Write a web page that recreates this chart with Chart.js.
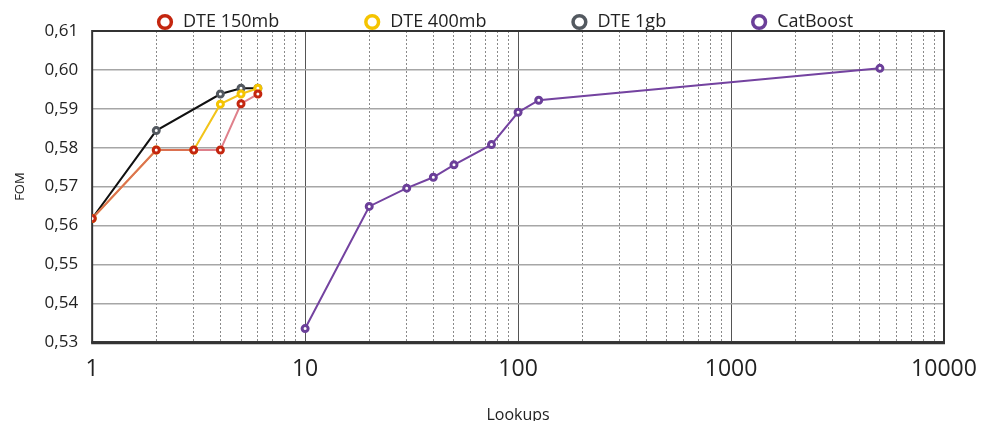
<!DOCTYPE html>
<html>
<head>
<meta charset="utf-8">
<script src="https://cdn.jsdelivr.net/npm/chart.js@4/dist/chart.umd.min.js"></script>
<style>
  html, body { margin: 0; padding: 0; background: #fff; }
  #wrap { width: 981px; height: 421px; }
</style>
</head>
<body>
<div id="wrap"><canvas id="fom-chart"></canvas></div>
<script>
const dteLookups = [1, 2, 3, 4, 5, 6];
const dte150 = [0.5618, 0.5794, 0.5794, 0.5794, 0.5913, 0.5938];
const dte400 = [0.5618, 0.5794, 0.5794, 0.5912, 0.5938, 0.5953];
const dte1gbLookups = [1, 2, 4, 5, 6];
const dte1gb = [0.5618, 0.5844, 0.5938, 0.5953, 0.5953];
const catLookups = [10, 20, 30, 40, 50, 75, 100, 125, 5000];
const catboost = [0.5335, 0.5649, 0.5696, 0.5724, 0.5756, 0.5808, 0.5891, 0.5922, 0.6004];
const xTicks = [1, 10, 100, 1000, 10000];
const yMin = 0.53, yMax = 0.61;

const font = "'Open Sans', sans-serif";

function pts(xs, ys) {
  return xs.map((x, i) => ({ x: x, y: ys[i] }));
}

// minor lines 2..9 of every decade
const minorTicks = [];
xTicks.slice(0, -1).forEach(d => {
  for (let k = 2; k <= 9; k++) minorTicks.push(d * k);
});

const markerColors = ["#c4260f", "#f5c400", "#535960", "#6b3f99"];

function series(label, data, lineColor, i) {
  return {
    label: label,
    data: data,
    borderColor: lineColor,
    borderWidth: 2,
    backgroundColor: "#fff",
    pointBorderColor: markerColors[i],
    pointBackgroundColor: "#fff",
    pointRadius: 3,
    pointBorderWidth: 3,
    tension: 0
  };
}

const legendPad = 84;

const frame = {
  id: "frame",
  beforeDatasetsDraw(chart) {
    const a = chart.chartArea, c = chart.ctx;
    c.save();
    c.strokeStyle = "#333";
    c.lineWidth = 2;
    c.strokeRect(a.left, a.top, a.right - a.left, a.bottom - a.top);
    c.lineWidth = 3;
    c.beginPath();
    c.moveTo(a.left - 1, a.bottom + 0.5);
    c.lineTo(a.right + 1, a.bottom + 0.5);
    c.stroke();
    c.restore();
  },
  afterLayout(chart) {
    // legend sits left of centre and tight to the top in the original
    const lg = chart.legend;
    const start = (lg.left + legendPad + lg.right - lg.lineWidths[0]) / 2;
    const shift = 156 - start;
    lg.left += shift; lg.right += shift;
    lg.top = -71;
  }
};

new Chart(document.getElementById("fom-chart"), {
  type: "line",
  data: {
    datasets: [
      series("DTE 150mb", pts(dteLookups, dte150), "rgba(212,86,100,0.75)", 0),
      series("DTE 400mb", pts(dteLookups, dte400), "#f2c41a", 1),
      series("DTE 1gb", pts(dte1gbLookups, dte1gb), "#111", 2),
      series("CatBoost", pts(catLookups, catboost), "#7443a0", 3)
    ]
  },
  options: {
    responsive: true,
    maintainAspectRatio: false,
    animation: false,
    layout: { padding: { right: 0, bottom: -4, left: 0, top: 0 } },
    plugins: {
      tooltip: { enabled: false },
      legend: {
        position: "top",
        maxHeight: 31,
        labels: {
          usePointStyle: true,
          pointStyle: "circle",
          boxHeight: 9,
          padding: legendPad,
          color: "#222",
          font: { family: font, size: 18 },
          generateLabels(chart) {
            return chart.data.datasets.map((ds, i) => ({
              text: ds.label,
              fillStyle: "#fff",
              strokeStyle: markerColors[i],
              lineWidth: 3.5,
              pointStyle: "circle",
              datasetIndex: i,
              fontColor: "#222"
            }));
          }
        }
      }
    },
    scales: {
      x: {
        type: "logarithmic",
        min: 1,
        max: 10000,
        afterBuildTicks(axis) { axis.ticks = xTicks.map(v => ({ value: v })); },
        afterFit(axis) { axis.paddingRight = 37; },
        ticks: {
          color: "#222",
          padding: 13,
          font: { family: font, size: 23 },
          callback: v => String(v)
        },
        grid: { color: "#555", lineWidth: 1, drawTicks: false },
        border: { display: false },
        title: {
          display: true,
          text: "Lookups",
          color: "#222",
          font: { family: font, size: 16 },
          padding: { top: 10, bottom: 0 }
        }
      },
      xMinor: {
        type: "logarithmic",
        position: "bottom",
        min: 1,
        max: 10000,
        afterBuildTicks(axis) { axis.ticks = minorTicks.map(v => ({ value: v })); },
        ticks: { display: false },
        grid: { color: "#8a8a8a", lineWidth: 1, drawTicks: false },
        border: { display: false, dash: [2, 2] }
      },
      y: {
        min: yMin,
        max: yMax,
        ticks: {
          stepSize: 0.01,
          color: "#222",
          padding: 14,
          font: { family: font, size: 17 },
          callback: v => v.toFixed(2).replace(".", ",")
        },
        grid: { color: "#a6a6a6", lineWidth: 1.5, drawTicks: false },
        border: { display: false },
        title: {
          display: true,
          text: "FOM",
          color: "#222",
          font: { family: font, size: 13 },
          padding: { top: 12, bottom: 3 }
        }
      }
    }
  },
  plugins: [frame]
});
</script>
</body>
</html>
